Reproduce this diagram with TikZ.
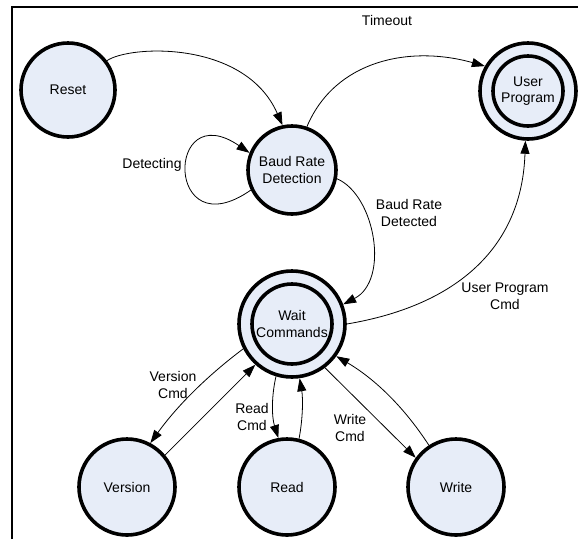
\documentclass[tikz,border=0pt]{standalone}
\usepackage{fontspec}
\setmainfont{Liberation Sans}
\usetikzlibrary{arrows.meta}
\definecolor{statefill}{RGB}{231,237,248}
\begin{document}
\begin{tikzpicture}[x=1pt,y=-1pt,
  state/.style={circle, draw=black, line width=3.6pt, fill=statefill, inner sep=0pt, align=center, font=\fontsize{14}{16.5}\selectfont},
  lbl/.style={align=center, inner sep=0pt, font=\fontsize{14}{16.5}\selectfont},
  edge/.style={line width=0.8pt, -{Triangle[length=13pt,width=9pt]}},
  framestyle/.style={line width=2pt}]
\useasboundingbox (0,0) rectangle (578,539);
\draw[framestyle] (12,539) -- (12,7) -- (578,7);

\node[state, minimum size=94pt] (reset) at (68,90) {Reset};
\node[state, minimum size=88pt] (baud) at (292,170) {Baud Rate\\Detection};
\node[state, minimum size=96pt] (user) at (528,91) {};
\node[state, minimum size=70pt] (userin) at (user) {User\\Program};
\node[state, minimum size=106pt] (wait) at (292,324) {};
\node[state, minimum size=80pt] (waitin) at (wait) {Wait\\Commands};
\node[state, minimum size=96pt] (version) at (127,487) {Version};
\node[state, minimum size=96pt] (read) at (287,487) {Read};
\node[state, minimum size=96pt] (write) at (456,487) {Write};

\draw[edge] (reset.37) .. controls (130,45) and (245,40) .. (baud.102);
\draw[edge] (baud.71) .. controls (335,60) and (410,45) .. (user.150);
\draw[edge] (baud.206) .. controls (165,250) and (165,95) .. (baud.158);
\draw[edge] (baud.-11) .. controls (375,195) and (390,280) .. (wait.21);
\draw[edge] (wait.0) .. controls (460,305) and (522,245) .. (user.267);
\draw[edge] (wait.207) .. controls (207,376) and (177,406) .. (version.62);
\draw[edge] (version.40) -- (wait.228);
\draw[edge] (wait.253) .. controls (271,398) and (272,418) .. (read.100);
\draw[edge] (read.76) .. controls (303,418) and (303,398) .. (wait.278);
\draw[edge] (wait.307) -- (write.144);
\draw[edge] (write.123) .. controls (404,407) and (375,379) .. (wait.324);

\node[lbl] (ltimeout) at (387,20) {Timeout};
\node[lbl] (ldetecting) at (152,165) {Detecting};
\node[lbl] (lbaud) at (409,213) {Baud Rate\\Detected};
\node[lbl] (luser) at (505,296) {User Program\\Cmd};
\node[lbl] (lversion) at (173,385) {Version\\Cmd};
\node[lbl] (lread) at (252,417) {Read\\Cmd};
\node[lbl] (lwrite) at (350,428) {Write\\Cmd};
\end{tikzpicture}
\end{document}
